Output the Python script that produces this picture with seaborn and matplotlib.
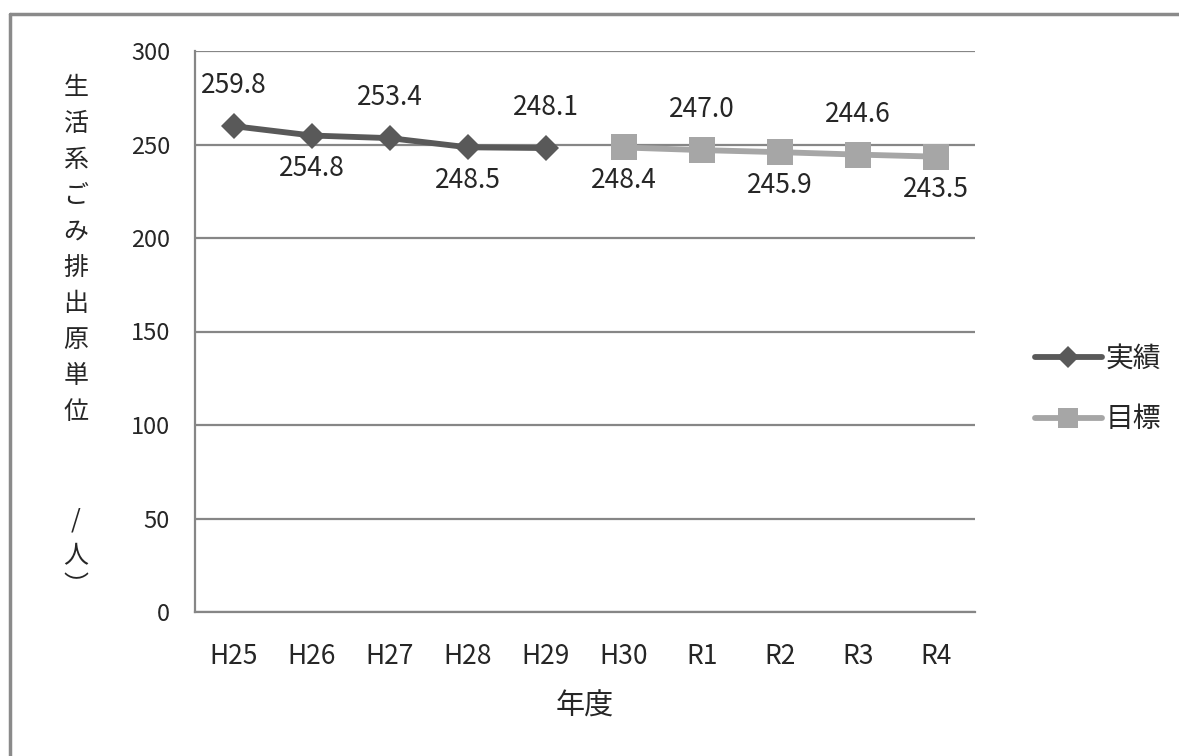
import matplotlib
matplotlib.use('Agg')
import matplotlib.pyplot as plt
import numpy as np
import pandas as pd
import seaborn as sns
from matplotlib.lines import Line2D

years = ['H25', 'H26', 'H27', 'H28', 'H29', 'H30', 'R1', 'R2', 'R3', 'R4']
actual_years = ['H25', 'H26', 'H27', 'H28', 'H29']
actual_vals = [259.8, 254.8, 253.4, 248.5, 248.1]
target_years = ['H30', 'R1', 'R2', 'R3', 'R4']
target_vals = [248.4, 247.0, 245.9, 244.6, 243.5]
series_names = ['実績', '目標']
ylabel_chars = list('生活系ごみ排出原単位') + ['', '', '/', '人']
xlabel = '年度'

sns.set_style('white')
plt.rcParams['font.family'] = ['Noto Sans CJK JP', 'DejaVu Sans']

df = pd.DataFrame({
    'year': actual_years + target_years,
    'value': actual_vals + target_vals,
    'series': [series_names[0]] * len(actual_years) + [series_names[1]] * len(target_years),
})
df['x'] = df['year'].map({y: i for i, y in enumerate(years)})

dark = '#595959'
light = '#a6a6a6'
grid = '#868686'

fig = plt.figure(figsize=(11.79, 7.56), dpi=100)
ax = fig.add_axes([195 / 1179, 1 - 612 / 756, 780 / 1179, 561 / 756])

sns.lineplot(data=df, x='x', y='value', hue='series', style='series',
             palette=[dark, light], markers=['D', 's'], dashes=False,
             linewidth=4.2, markeredgewidth=0, ax=ax, legend=False)
lines = ax.get_lines()
lines[0].set_markersize(13)
lines[1].set_markersize(19)

ax.set_xlim(-0.5, 9.5)
ax.set_ylim(0, 300)
ax.set_yticks(np.arange(0, 301, 50))
ax.set_xticks(range(len(years)))
ax.set_xticklabels(years)
ax.set_xticks(np.arange(-0.5, 10, 1), minor=True)
ax.tick_params(axis='x', which='major', length=0, pad=22, labelsize=19)
ax.tick_params(axis='x', which='minor', length=8, width=1.5, color=grid, direction='out')
ax.tick_params(axis='y', length=8, width=1.5, color=grid, direction='out', labelsize=17, pad=10)
ax.yaxis.grid(True, color=grid, linewidth=1.6)
ax.set_axisbelow(True)
for side in ['top', 'right']:
    ax.spines[side].set_visible(False)
for side in ['left', 'bottom']:
    ax.spines[side].set_color(grid)
    ax.spines[side].set_linewidth(1.6)
ax.set_xlabel(xlabel, fontsize=21, labelpad=16)
ax.set_ylabel('')

# data labels, alternating above / below
for i, (x, v) in enumerate(zip(df['x'], df['value'])):
    off = 29 if i % 2 == 0 else -24
    ax.annotate('%.1f' % v, (x, v), xytext=(0, off), textcoords='offset points',
                ha='center', va='center', fontsize=19)

# vertical y label
for k, ch in enumerate(ylabel_chars):
    if ch:
        fig.text(76 / 1179, 1 - (88 + 36 * k) / 756, ch, ha='center', va='center', fontsize=18)
fig.text(76 / 1179, 1 - 586 / 756, '︶', ha='center', va='center', fontsize=18)

# legend
handles = [Line2D([], [], color=dark, lw=4.2, marker='D', ms=11, mew=0),
           Line2D([], [], color=light, lw=4.2, marker='s', ms=15, mew=0)]
fig.legend(handles, series_names, loc='center left', bbox_to_anchor=(1010 / 1179, 1 - 389 / 756),
           frameon=False, fontsize=20, handlelength=2.4, handletextpad=0.15, labelspacing=1.1)

# outer frame (top and left visible)
fig.add_artist(Line2D([10 / 1179, 1], [1 - 14 / 756] * 2, color='#8a8a8a', lw=2.5, transform=fig.transFigure))
fig.add_artist(Line2D([10 / 1179] * 2, [0, 1 - 14 / 756], color='#8a8a8a', lw=2.5, transform=fig.transFigure))

fig.savefig('out.png', dpi=100)
